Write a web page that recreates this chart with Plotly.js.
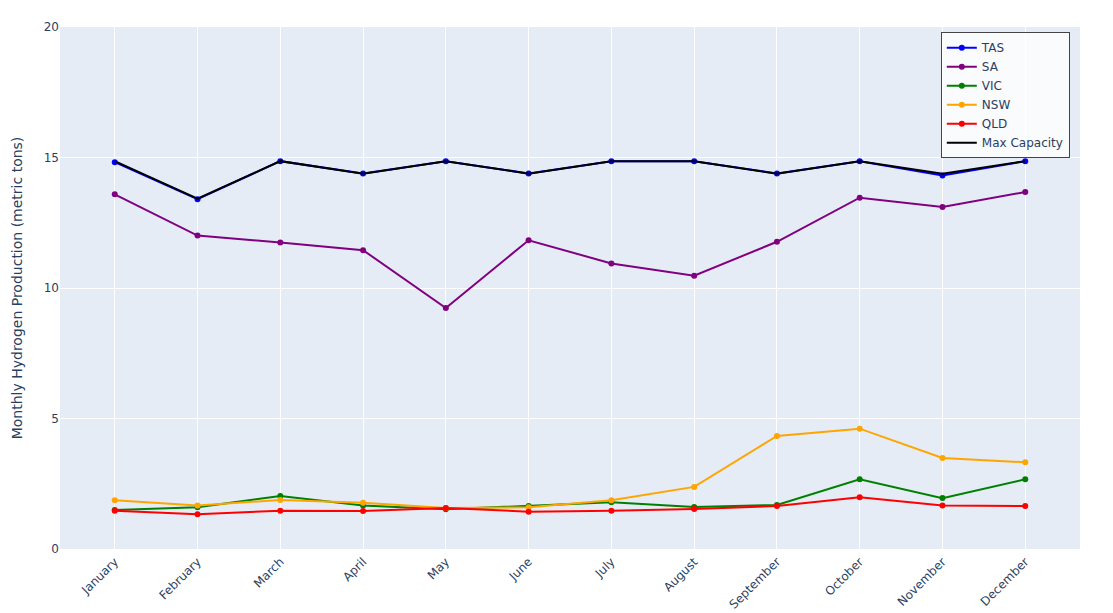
<!DOCTYPE html>
<html>
<head>
<meta charset="utf-8">
<script src="https://cdn.plot.ly/plotly-3.0.1.min.js"></script>
<style>html,body{margin:0;padding:0;}#chart{width:1113px;height:613px;}</style>
</head>
<body>
<div id="chart"></div>
<script>
const months = ["January","February","March","April","May","June","July","August","September","October","November","December"];
const tas = [14.82, 13.40, 14.86, 14.39, 14.86, 14.39, 14.86, 14.86, 14.39, 14.86, 14.31, 14.86];
const sa = [13.59, 12.01, 11.74, 11.45, 9.23, 11.83, 10.94, 10.47, 11.77, 13.46, 13.10, 13.68];
const vic = [1.49, 1.60, 2.03, 1.67, 1.52, 1.65, 1.79, 1.61, 1.69, 2.67, 1.95, 2.67];
const nsw = [1.87, 1.67, 1.88, 1.77, 1.57, 1.60, 1.87, 2.38, 4.33, 4.61, 3.49, 3.32];
const qld = [1.47, 1.33, 1.47, 1.46, 1.57, 1.43, 1.47, 1.53, 1.65, 1.98, 1.67, 1.65];
const maxCap = [14.86, 13.42, 14.86, 14.38, 14.86, 14.38, 14.86, 14.86, 14.38, 14.86, 14.38, 14.86];

const series = [
  {name: "TAS", y: tas, color: "blue"},
  {name: "SA", y: sa, color: "purple"},
  {name: "VIC", y: vic, color: "green"},
  {name: "NSW", y: nsw, color: "orange"},
  {name: "QLD", y: qld, color: "red"}
];
const traces = series.map(s => ({
  x: months, y: s.y, name: s.name, type: "scatter", mode: "lines+markers",
  line: {color: s.color, width: 2}, marker: {color: s.color, size: 6}
}));
traces.push({x: months, y: maxCap, name: "Max Capacity", type: "scatter", mode: "lines",
  line: {color: "black", width: 2}});

const layout = {
  width: 1113, height: 613,
  margin: {l: 60, r: 33, t: 27, b: 64},
  paper_bgcolor: "white", plot_bgcolor: "#E5ECF6",
  font: {family: "Verdana, 'DejaVu Sans', sans-serif", size: 12, color: "#2a3f5f"},
  xaxis: {tickangle: -45, gridcolor: "white", linecolor: "white", ticks: "", zeroline: false},
  yaxis: {title: {text: "Monthly Hydrogen Production (metric tons)", font: {size: 14}}, range: [0, 20], dtick: 5,
    gridcolor: "white", zerolinecolor: "white", zerolinewidth: 2, ticks: ""},
  legend: {x: 0.99, y: 0.99, xanchor: "right", yanchor: "top", bgcolor: "rgba(255,255,255,0.8)",
    bordercolor: "#444", borderwidth: 1, font: {size: 12}},
  showlegend: true
};
Plotly.newPlot("chart", traces, layout, {displayModeBar: false});
</script>
</body>
</html>
